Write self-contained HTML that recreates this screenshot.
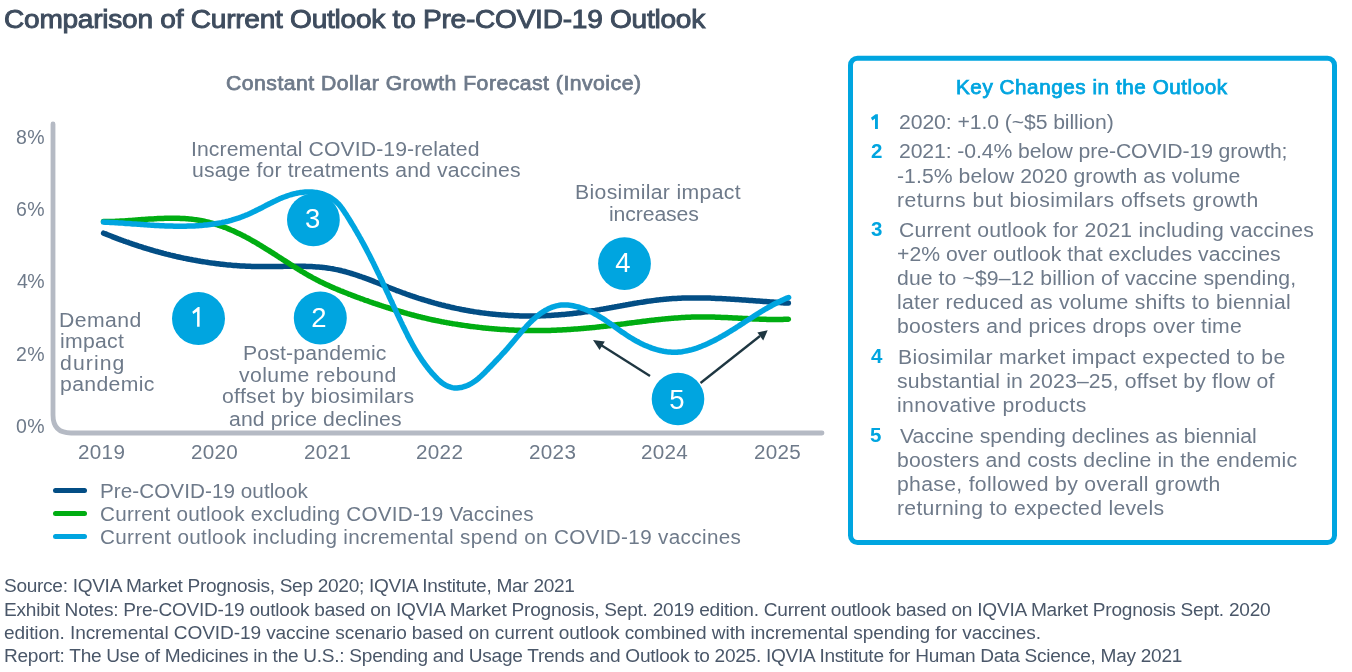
<!DOCTYPE html>
<html><head><meta charset="utf-8"><title>Comparison of Current Outlook to Pre-COVID-19 Outlook</title>
<style>
html,body{margin:0;padding:0;background:#fff;}
body{width:1352px;height:672px;position:relative;overflow:hidden;font-family:"Liberation Sans", sans-serif;}
.ch{position:absolute;left:0;top:0;}
.t{position:absolute;white-space:pre;}
#w{position:absolute;left:0;top:0;width:1352px;height:672px;will-change:transform;}
</style></head><body>
<div id="w">
<svg class="ch" width="1352" height="672" viewBox="0 0 1352 672">
<path d="M53,124 V415 Q53,433 71,433 H822" fill="none" stroke="#b5bac4" stroke-width="4.8" stroke-linecap="round"/>
<path d="M103.6,233.2L104.9,233.7L106.3,234.2L107.6,234.8L108.9,235.3L110.2,235.8L111.5,236.3L112.9,236.9L114.2,237.4L115.5,237.9L116.8,238.4L118.1,238.9L119.5,239.4L120.8,239.9L122.1,240.3L123.4,240.8L124.8,241.3L126.1,241.8L127.4,242.2L128.8,242.7L130.1,243.2L131.4,243.6L132.8,244.1L134.1,244.5L135.4,245.0L136.8,245.4L138.1,245.9L139.4,246.3L140.8,246.7L142.1,247.1L143.4,247.6L144.8,248.0L146.1,248.4L147.5,248.8L148.8,249.2L150.1,249.6L151.5,250.0L152.8,250.4L154.2,250.8L155.5,251.2L156.9,251.5L158.2,251.9L159.6,252.3L160.9,252.6L162.3,253.0L163.6,253.4L165.0,253.7L166.3,254.1L167.7,254.4L169.0,254.7L170.4,255.1L171.7,255.4L173.1,255.7L174.4,256.0L175.8,256.4L177.2,256.7L178.5,257.0L179.9,257.3L181.2,257.6L182.6,257.9L184.0,258.2L185.3,258.4L186.7,258.7L188.0,259.0L189.4,259.3L190.8,259.5L192.1,259.8L193.5,260.1L194.9,260.3L196.2,260.5L197.6,260.8L199.0,261.0L200.3,261.3L201.7,261.5L203.1,261.7L204.5,261.9L205.8,262.1L207.2,262.3L208.6,262.6L210.0,262.8L211.3,262.9L212.7,263.1L214.1,263.3L215.5,263.5L216.9,263.7L218.2,263.8L219.6,264.0L221.0,264.2L222.4,264.3L223.8,264.5L225.1,264.6L226.5,264.8L227.9,264.9L229.3,265.0L230.7,265.1L232.1,265.3L233.5,265.4L234.9,265.5L236.3,265.6L237.6,265.7L239.0,265.8L240.4,265.9L241.8,266.0L243.2,266.0L244.6,266.1L246.0,266.2L247.4,266.2L248.8,266.3L250.2,266.3L251.6,266.4L253.0,266.4L254.4,266.5L255.8,266.5L257.2,266.5L258.6,266.6L260.0,266.6L261.4,266.6L262.8,266.6L264.2,266.6L265.6,266.6L267.0,266.6L268.4,266.6L269.8,266.6L271.3,266.5L272.7,266.5L274.1,266.5L275.5,266.5L276.9,266.5L278.3,266.4L279.7,266.4L281.1,266.4L282.5,266.4L283.9,266.3L285.3,266.3L286.7,266.3L288.1,266.3L289.6,266.3L291.0,266.3L292.4,266.2L293.8,266.2L295.2,266.2L296.6,266.2L298.0,266.2L299.4,266.2L300.8,266.3L302.2,266.3L303.6,266.3L305.0,266.3L306.4,266.4L307.8,266.4L309.2,266.5L310.5,266.5L311.9,266.6L313.3,266.7L314.7,266.8L316.1,266.9L317.5,267.0L318.9,267.1L320.2,267.2L321.6,267.3L323.0,267.5L324.4,267.6L325.7,267.8L327.1,268.0L328.5,268.2L329.8,268.4L331.2,268.6L332.6,268.8L333.9,269.1L335.3,269.4L336.6,269.6L338.0,269.9L339.3,270.2L340.7,270.5L342.0,270.9L343.4,271.2L344.7,271.5L346.0,271.9L347.4,272.3L348.7,272.7L350.1,273.1L351.4,273.5L352.7,273.9L354.0,274.3L355.4,274.7L356.7,275.2L358.0,275.6L359.3,276.1L360.7,276.5L362.0,277.0L363.3,277.5L364.6,277.9L365.9,278.4L367.3,278.9L368.6,279.4L369.9,279.9L371.2,280.4L372.5,280.9L373.8,281.4L375.1,282.0L376.5,282.5L377.8,283.0L379.1,283.5L380.4,284.0L381.7,284.6L383.0,285.1L384.3,285.6L385.6,286.1L386.9,286.6L388.3,287.2L389.6,287.7L390.9,288.2L392.2,288.7L393.5,289.2L394.8,289.8L396.1,290.3L397.5,290.8L398.8,291.3L400.1,291.8L401.4,292.3L402.7,292.8L404.0,293.2L405.4,293.7L406.7,294.2L408.0,294.7L409.3,295.1L410.7,295.6L412.0,296.0L413.3,296.5L414.6,296.9L416.0,297.4L417.3,297.8L418.6,298.3L420.0,298.7L421.3,299.1L422.6,299.5L424.0,299.9L425.3,300.3L426.6,300.7L428.0,301.1L429.3,301.5L430.6,301.9L432.0,302.3L433.3,302.7L434.7,303.1L436.0,303.4L437.4,303.8L438.7,304.2L440.0,304.5L441.4,304.9L442.7,305.2L444.1,305.5L445.4,305.9L446.8,306.2L448.1,306.5L449.5,306.8L450.9,307.2L452.2,307.5L453.6,307.8L454.9,308.1L456.3,308.4L457.6,308.6L459.0,308.9L460.4,309.2L461.7,309.5L463.1,309.7L464.5,310.0L465.8,310.3L467.2,310.5L468.6,310.7L469.9,311.0L471.3,311.2L472.7,311.4L474.0,311.7L475.4,311.9L476.8,312.1L478.2,312.3L479.5,312.5L480.9,312.7L482.3,312.9L483.7,313.1L485.1,313.2L486.4,313.4L487.8,313.6L489.2,313.7L490.6,313.9L492.0,314.0L493.4,314.2L494.8,314.3L496.1,314.4L497.5,314.6L498.9,314.7L500.3,314.8L501.7,314.9L503.1,315.0L504.5,315.1L505.9,315.2L507.3,315.3L508.7,315.4L510.1,315.5L511.5,315.5L512.9,315.6L514.3,315.7L515.7,315.7L517.1,315.8L518.5,315.8L519.9,315.9L521.3,315.9L522.7,315.9L524.1,315.9L525.5,316.0L526.9,316.0L528.3,316.0L529.7,316.0L531.1,316.0L532.5,316.0L533.9,316.0L535.3,316.0L536.7,315.9L538.1,315.9L539.5,315.9L540.9,315.8L542.3,315.8L543.7,315.7L545.1,315.7L546.5,315.6L547.9,315.6L549.3,315.5L550.7,315.4L552.1,315.3L553.5,315.2L554.9,315.1L556.3,315.1L557.7,315.0L559.1,314.8L560.5,314.7L561.9,314.6L563.3,314.5L564.7,314.4L566.1,314.2L567.5,314.1L568.9,314.0L570.3,313.8L571.7,313.7L573.0,313.5L574.4,313.3L575.8,313.2L577.2,313.0L578.6,312.8L580.0,312.7L581.4,312.5L582.8,312.3L584.2,312.1L585.6,311.9L586.9,311.7L588.3,311.5L589.7,311.3L591.1,311.0L592.5,310.8L593.9,310.6L595.2,310.4L596.6,310.1L598.0,309.9L599.4,309.7L600.8,309.4L602.2,309.2L603.5,309.0L604.9,308.7L606.3,308.5L607.7,308.2L609.0,308.0L610.4,307.7L611.8,307.5L613.2,307.2L614.5,307.0L615.9,306.7L617.3,306.5L618.7,306.2L620.1,306.0L621.4,305.7L622.8,305.5L624.2,305.2L625.6,305.0L626.9,304.7L628.3,304.5L629.7,304.2L631.1,304.0L632.4,303.8L633.8,303.5L635.2,303.3L636.6,303.1L637.9,302.8L639.3,302.6L640.7,302.4L642.1,302.2L643.4,302.0L644.8,301.7L646.2,301.5L647.6,301.3L649.0,301.1L650.3,300.9L651.7,300.8L653.1,300.6L654.5,300.4L655.9,300.2L657.2,300.0L658.6,299.9L660.0,299.7L661.4,299.6L662.8,299.4L664.2,299.3L665.5,299.2L666.9,299.0L668.3,298.9L669.7,298.8L671.1,298.7L672.5,298.6L673.9,298.5L675.3,298.4L676.6,298.4L678.0,298.3L679.4,298.2L680.8,298.2L682.2,298.1L683.6,298.1L685.0,298.0L686.4,298.0L687.8,298.0L689.2,297.9L690.6,297.9L692.0,297.9L693.4,297.9L694.8,297.9L696.2,297.9L697.6,297.9L699.0,297.9L700.4,297.9L701.8,297.9L703.2,298.0L704.6,298.0L706.0,298.0L707.4,298.1L708.8,298.1L710.2,298.1L711.6,298.2L713.0,298.2L714.4,298.3L715.8,298.4L717.2,298.4L718.6,298.5L720.0,298.5L721.4,298.6L722.8,298.7L724.2,298.8L725.6,298.8L727.0,298.9L728.4,299.0L729.8,299.1L731.2,299.2L732.6,299.2L734.0,299.3L735.4,299.4L736.8,299.5L738.2,299.6L739.6,299.7L741.0,299.8L742.4,299.9L743.8,300.0L745.2,300.1L746.6,300.2L748.0,300.3L749.4,300.4L750.8,300.5L752.2,300.6L753.6,300.7L755.0,300.8L756.4,300.9L757.8,301.0L759.2,301.1L760.6,301.2L762.0,301.3L763.3,301.4L764.7,301.5L766.1,301.6L767.5,301.7L768.9,301.8L770.3,301.9L771.7,302.0L773.1,302.1L774.5,302.2L775.9,302.3L777.3,302.4L778.7,302.5L780.0,302.6L781.4,302.7L782.8,302.8L784.2,302.9L785.6,302.9L787.0,303.0L788.4,303.1" fill="none" stroke="#034e85" stroke-width="5.5" stroke-linecap="round" stroke-linejoin="round"/>
<path d="M103.5,221.6L104.9,221.6L106.3,221.6L107.7,221.6L109.1,221.5L110.4,221.5L111.8,221.5L113.2,221.4L114.6,221.4L116.0,221.3L117.4,221.2L118.9,221.2L120.3,221.1L121.7,221.0L123.1,220.9L124.5,220.9L125.9,220.8L127.4,220.7L128.8,220.6L130.2,220.5L131.7,220.4L133.1,220.3L134.5,220.2L136.0,220.1L137.4,220.0L138.8,219.8L140.3,219.7L141.7,219.6L143.2,219.5L144.6,219.4L146.0,219.3L147.5,219.2L148.9,219.1L150.4,219.0L151.8,218.9L153.3,218.9L154.7,218.8L156.2,218.7L157.6,218.6L159.0,218.6L160.5,218.5L161.9,218.4L163.4,218.4L164.8,218.3L166.3,218.3L167.7,218.3L169.1,218.2L170.6,218.2L172.0,218.2L173.4,218.2L174.9,218.2L176.3,218.3L177.7,218.3L179.2,218.3L180.6,218.4L182.0,218.4L183.4,218.5L184.8,218.6L186.3,218.7L187.7,218.8L189.1,218.9L190.5,219.1L191.9,219.2L193.3,219.4L194.7,219.6L196.1,219.8L197.5,220.0L198.9,220.2L200.3,220.4L201.6,220.7L203.0,221.0L204.4,221.3L205.8,221.6L207.1,221.9L208.5,222.2L209.9,222.6L211.2,222.9L212.6,223.3L213.9,223.7L215.3,224.1L216.6,224.5L217.9,225.0L219.3,225.4L220.6,225.9L221.9,226.3L223.2,226.8L224.6,227.3L225.9,227.8L227.2,228.3L228.5,228.9L229.8,229.4L231.1,230.0L232.4,230.5L233.7,231.1L235.0,231.7L236.2,232.3L237.5,232.9L238.8,233.5L240.1,234.1L241.3,234.7L242.6,235.4L243.9,236.0L245.1,236.7L246.4,237.4L247.6,238.0L248.9,238.7L250.1,239.4L251.4,240.1L252.6,240.8L253.8,241.5L255.1,242.2L256.3,242.9L257.5,243.6L258.7,244.4L260.0,245.1L261.2,245.8L262.4,246.6L263.6,247.3L264.8,248.1L266.0,248.8L267.3,249.6L268.5,250.3L269.7,251.1L270.9,251.9L272.1,252.6L273.3,253.4L274.5,254.2L275.7,254.9L276.9,255.7L278.1,256.5L279.3,257.3L280.5,258.0L281.7,258.8L282.9,259.6L284.1,260.3L285.3,261.1L286.5,261.9L287.7,262.7L288.9,263.4L290.1,264.2L291.3,265.0L292.5,265.7L293.7,266.5L295.0,267.2L296.2,268.0L297.4,268.7L298.6,269.5L299.8,270.2L301.0,271.0L302.2,271.7L303.5,272.4L304.7,273.2L305.9,273.9L307.2,274.6L308.4,275.3L309.6,276.0L310.9,276.7L312.1,277.4L313.4,278.1L314.6,278.7L315.9,279.4L317.1,280.1L318.4,280.7L319.6,281.4L320.9,282.0L322.2,282.6L323.5,283.2L324.7,283.8L326.0,284.4L327.3,285.0L328.6,285.6L329.9,286.2L331.2,286.8L332.5,287.4L333.8,287.9L335.1,288.5L336.4,289.0L337.7,289.6L339.0,290.1L340.3,290.7L341.6,291.2L343.0,291.7L344.3,292.3L345.6,292.8L346.9,293.3L348.2,293.8L349.6,294.3L350.9,294.8L352.2,295.4L353.6,295.9L354.9,296.4L356.2,296.9L357.6,297.4L358.9,297.8L360.2,298.3L361.6,298.8L362.9,299.3L364.2,299.8L365.6,300.3L366.9,300.7L368.3,301.2L369.6,301.7L370.9,302.2L372.3,302.6L373.6,303.1L375.0,303.5L376.3,304.0L377.7,304.4L379.0,304.9L380.4,305.3L381.7,305.8L383.1,306.2L384.4,306.7L385.8,307.1L387.1,307.5L388.5,307.9L389.8,308.4L391.2,308.8L392.5,309.2L393.9,309.6L395.3,310.0L396.6,310.4L398.0,310.8L399.3,311.2L400.7,311.6L402.0,312.0L403.4,312.4L404.7,312.8L406.1,313.2L407.5,313.6L408.8,313.9L410.2,314.3L411.5,314.7L412.9,315.0L414.2,315.4L415.6,315.8L417.0,316.1L418.3,316.5L419.7,316.8L421.1,317.1L422.4,317.5L423.8,317.8L425.2,318.1L426.5,318.4L427.9,318.8L429.3,319.1L430.6,319.4L432.0,319.7L433.4,320.0L434.8,320.3L436.1,320.6L437.5,320.8L438.9,321.1L440.3,321.4L441.7,321.7L443.0,321.9L444.4,322.2L445.8,322.4L447.2,322.7L448.6,322.9L450.0,323.2L451.4,323.4L452.8,323.7L454.1,323.9L455.5,324.1L456.9,324.3L458.3,324.6L459.7,324.8L461.1,325.0L462.5,325.2L463.9,325.4L465.3,325.6L466.7,325.8L468.1,326.0L469.5,326.2L471.0,326.4L472.4,326.6L473.8,326.7L475.2,326.9L476.6,327.1L478.0,327.2L479.4,327.4L480.8,327.6L482.2,327.7L483.7,327.9L485.1,328.0L486.5,328.2L487.9,328.3L489.3,328.4L490.7,328.6L492.2,328.7L493.6,328.8L495.0,328.9L496.4,329.0L497.8,329.2L499.3,329.3L500.7,329.4L502.1,329.5L503.5,329.6L504.9,329.6L506.4,329.7L507.8,329.8L509.2,329.9L510.6,330.0L512.0,330.0L513.5,330.1L514.9,330.2L516.3,330.2L517.7,330.3L519.2,330.3L520.6,330.4L522.0,330.4L523.4,330.4L524.8,330.5L526.3,330.5L527.7,330.5L529.1,330.6L530.5,330.6L532.0,330.6L533.4,330.6L534.8,330.6L536.2,330.6L537.6,330.6L539.1,330.6L540.5,330.6L541.9,330.6L543.3,330.5L544.7,330.5L546.1,330.5L547.6,330.5L549.0,330.4L550.4,330.4L551.8,330.3L553.2,330.3L554.6,330.2L556.1,330.2L557.5,330.1L558.9,330.1L560.3,330.0L561.7,329.9L563.1,329.8L564.5,329.8L566.0,329.7L567.4,329.6L568.8,329.5L570.2,329.4L571.6,329.3L573.0,329.2L574.4,329.1L575.8,329.0L577.3,328.9L578.7,328.8L580.1,328.7L581.5,328.6L582.9,328.5L584.3,328.3L585.7,328.2L587.1,328.1L588.5,328.0L590.0,327.8L591.4,327.7L592.8,327.6L594.2,327.4L595.6,327.3L597.0,327.1L598.4,327.0L599.8,326.8L601.2,326.6L602.6,326.5L604.1,326.3L605.5,326.2L606.9,326.0L608.3,325.8L609.7,325.7L611.1,325.5L612.5,325.3L613.9,325.1L615.3,325.0L616.7,324.8L618.2,324.6L619.6,324.4L621.0,324.2L622.4,324.1L623.8,323.9L625.2,323.7L626.6,323.5L628.0,323.3L629.4,323.1L630.8,323.0L632.3,322.8L633.7,322.6L635.1,322.4L636.5,322.2L637.9,322.0L639.3,321.9L640.7,321.7L642.1,321.5L643.5,321.3L645.0,321.2L646.4,321.0L647.8,320.8L649.2,320.6L650.6,320.5L652.0,320.3L653.4,320.2L654.8,320.0L656.3,319.8L657.7,319.7L659.1,319.5L660.5,319.4L661.9,319.2L663.3,319.1L664.7,318.9L666.1,318.8L667.6,318.7L669.0,318.5L670.4,318.4L671.8,318.3L673.2,318.2L674.6,318.1L676.1,318.0L677.5,317.9L678.9,317.8L680.3,317.7L681.7,317.6L683.1,317.5L684.6,317.4L686.0,317.3L687.4,317.3L688.8,317.2L690.2,317.2L691.7,317.1L693.1,317.1L694.5,317.0L695.9,317.0L697.3,317.0L698.8,317.0L700.2,316.9L701.6,316.9L703.0,316.9L704.4,316.9L705.9,316.9L707.3,317.0L708.7,317.0L710.1,317.0L711.6,317.0L713.0,317.1L714.4,317.1L715.8,317.2L717.3,317.2L718.7,317.3L720.1,317.3L721.5,317.4L723.0,317.4L724.4,317.5L725.8,317.5L727.2,317.6L728.7,317.7L730.1,317.7L731.5,317.8L732.9,317.9L734.4,318.0L735.8,318.0L737.2,318.1L738.6,318.2L740.1,318.3L741.5,318.3L742.9,318.4L744.3,318.5L745.8,318.5L747.2,318.6L748.6,318.7L750.0,318.7L751.5,318.8L752.9,318.9L754.3,318.9L755.7,319.0L757.2,319.1L758.6,319.1L760.0,319.2L761.4,319.2L762.8,319.3L764.3,319.3L765.7,319.3L767.1,319.4L768.5,319.4L770.0,319.4L771.4,319.4L772.8,319.4L774.2,319.5L775.6,319.5L777.0,319.5L778.5,319.4L779.9,319.4L781.3,319.4L782.7,319.4L784.1,319.3L785.5,319.3L787.0,319.3L788.4,319.2" fill="none" stroke="#00ad12" stroke-width="5.5" stroke-linecap="round" stroke-linejoin="round"/>
<path d="M103.5,222.1L105.2,222.2L106.9,222.3L108.6,222.3L110.3,222.4L112.0,222.5L113.7,222.6L115.5,222.7L117.2,222.8L118.9,222.9L120.6,223.0L122.3,223.1L124.0,223.2L125.7,223.4L127.4,223.5L129.2,223.6L130.9,223.7L132.6,223.9L134.3,224.0L136.0,224.1L137.8,224.2L139.5,224.3L141.2,224.5L142.9,224.6L144.6,224.7L146.4,224.8L148.1,224.9L149.8,225.1L151.5,225.2L153.3,225.3L155.0,225.4L156.7,225.5L158.4,225.6L160.2,225.7L161.9,225.7L163.6,225.8L165.3,225.9L167.1,226.0L168.8,226.0L170.5,226.1L172.2,226.1L174.0,226.2L175.7,226.2L177.4,226.2L179.1,226.2L180.8,226.2L182.6,226.2L184.3,226.2L186.0,226.2L187.7,226.1L189.4,226.1L191.1,226.0L192.9,226.0L194.6,225.9L196.3,225.8L198.0,225.7L199.7,225.5L201.4,225.4L203.1,225.3L204.8,225.1L206.5,224.9L208.2,224.7L209.9,224.5L211.6,224.3L213.3,224.0L215.0,223.8L216.7,223.5L218.4,223.2L220.1,222.9L221.7,222.6L223.4,222.2L225.1,221.9L226.7,221.5L228.4,221.1L230.0,220.6L231.7,220.2L233.3,219.7L235.0,219.2L236.6,218.7L238.2,218.2L239.8,217.6L241.4,217.0L243.0,216.4L244.6,215.8L246.2,215.1L247.8,214.5L249.4,213.8L250.9,213.1L252.5,212.3L254.1,211.6L255.6,210.8L257.1,210.0L258.7,209.3L260.2,208.5L261.8,207.7L263.3,206.9L264.8,206.1L266.3,205.3L267.9,204.5L269.4,203.7L270.9,203.0L272.5,202.2L274.0,201.4L275.6,200.7L277.1,200.0L278.7,199.3L280.2,198.6L281.8,197.9L283.4,197.3L285.0,196.7L286.6,196.1L288.3,195.5L289.9,195.0L291.6,194.5L293.2,194.0L294.9,193.6L296.6,193.3L298.3,192.9L300.0,192.6L301.7,192.4L303.4,192.2L305.1,192.1L306.9,192.0L308.6,191.9L310.3,191.9L312.0,192.0L313.7,192.2L315.4,192.4L317.1,192.6L318.7,193.0L320.4,193.4L322.1,193.8L323.7,194.4L325.3,195.0L326.9,195.7L328.5,196.5L330.0,197.3L331.5,198.2L332.9,199.2L334.3,200.2L335.7,201.3L336.9,202.5L338.2,203.7L339.3,204.9L340.4,206.3L341.4,207.6L342.5,209.0L343.4,210.4L344.4,211.8L345.3,213.3L346.3,214.7L347.2,216.2L348.1,217.6L349.0,219.1L349.9,220.5L350.8,222.0L351.7,223.5L352.6,224.9L353.5,226.4L354.4,227.9L355.2,229.4L356.1,230.9L357.0,232.4L357.8,233.8L358.7,235.3L359.5,236.8L360.4,238.3L361.2,239.8L362.0,241.4L362.9,242.9L363.7,244.4L364.5,245.9L365.3,247.4L366.1,248.9L366.9,250.4L367.7,252.0L368.5,253.5L369.3,255.0L370.1,256.6L370.8,258.1L371.6,259.6L372.4,261.2L373.2,262.7L373.9,264.2L374.7,265.8L375.4,267.3L376.2,268.9L376.9,270.4L377.7,272.0L378.4,273.5L379.2,275.0L379.9,276.6L380.6,278.1L381.4,279.7L382.1,281.2L382.8,282.8L383.5,284.4L384.3,285.9L385.0,287.5L385.7,289.0L386.4,290.6L387.1,292.1L387.9,293.7L388.6,295.2L389.3,296.8L390.0,298.4L390.7,299.9L391.5,301.5L392.2,303.0L392.9,304.6L393.6,306.1L394.3,307.7L395.1,309.2L395.8,310.8L396.5,312.4L397.2,313.9L398.0,315.5L398.7,317.0L399.4,318.6L400.2,320.1L400.9,321.7L401.7,323.2L402.4,324.8L403.1,326.3L403.9,327.9L404.7,329.4L405.4,331.0L406.2,332.5L407.0,334.0L407.7,335.6L408.5,337.1L409.3,338.6L410.1,340.1L410.9,341.7L411.8,343.2L412.6,344.7L413.4,346.2L414.3,347.7L415.1,349.2L416.0,350.6L416.9,352.1L417.8,353.6L418.7,355.0L419.7,356.5L420.6,357.9L421.5,359.4L422.5,360.8L423.5,362.2L424.5,363.6L425.5,365.0L426.6,366.4L427.6,367.7L428.7,369.1L429.8,370.5L430.9,371.8L432.0,373.1L433.2,374.4L434.4,375.7L435.6,377.0L436.8,378.2L438.0,379.4L439.3,380.6L440.6,381.7L441.9,382.7L443.3,383.7L444.7,384.6L446.1,385.4L447.6,386.1L449.1,386.7L450.6,387.2L452.2,387.6L453.8,387.9L455.4,388.0L457.1,388.0L458.8,387.8L460.6,387.6L462.3,387.2L464.0,386.7L465.7,386.1L467.4,385.5L469.0,384.7L470.6,383.9L472.1,383.0L473.6,382.0L475.1,381.0L476.5,380.0L477.9,378.9L479.2,377.7L480.6,376.5L481.9,375.3L483.1,374.1L484.4,372.9L485.6,371.6L486.8,370.4L488.0,369.2L489.2,367.9L490.4,366.7L491.6,365.5L492.7,364.3L493.9,363.1L495.0,361.9L496.1,360.7L497.3,359.5L498.4,358.3L499.5,357.2L500.6,356.0L501.7,354.7L502.8,353.5L504.0,352.3L505.1,351.1L506.2,349.8L507.3,348.6L508.4,347.3L509.5,346.0L510.6,344.7L511.8,343.4L512.9,342.0L514.0,340.7L515.2,339.3L516.3,337.9L517.5,336.5L518.7,335.2L519.9,333.8L521.0,332.4L522.2,331.0L523.4,329.7L524.7,328.3L525.9,327.0L527.1,325.6L528.4,324.3L529.6,323.0L530.9,321.8L532.2,320.5L533.5,319.3L534.8,318.2L536.1,317.0L537.5,315.9L538.8,314.8L540.2,313.8L541.6,312.8L543.0,311.9L544.4,311.0L545.8,310.2L547.3,309.4L548.7,308.6L550.2,308.0L551.7,307.4L553.2,306.8L554.8,306.3L556.4,305.9L557.9,305.6L559.5,305.3L561.2,305.1L562.8,305.0L564.5,305.0L566.1,305.0L567.8,305.1L569.5,305.3L571.2,305.5L572.9,305.8L574.7,306.2L576.4,306.6L578.1,307.0L579.8,307.5L581.5,308.1L583.2,308.7L584.8,309.3L586.5,309.9L588.1,310.6L589.8,311.4L591.4,312.1L592.9,312.9L594.5,313.7L596.0,314.5L597.5,315.4L599.0,316.2L600.4,317.1L601.9,318.0L603.3,318.9L604.7,319.8L606.1,320.8L607.5,321.7L608.9,322.7L610.3,323.6L611.6,324.6L613.0,325.5L614.4,326.5L615.7,327.5L617.1,328.5L618.5,329.5L619.8,330.4L621.2,331.4L622.6,332.4L624.0,333.3L625.4,334.3L626.8,335.2L628.3,336.2L629.7,337.1L631.2,338.0L632.7,338.9L634.2,339.8L635.7,340.7L637.3,341.5L638.8,342.3L640.4,343.2L642.0,343.9L643.6,344.7L645.2,345.4L646.8,346.1L648.5,346.8L650.1,347.4L651.8,348.1L653.4,348.6L655.1,349.2L656.8,349.7L658.4,350.1L660.1,350.5L661.8,350.9L663.5,351.3L665.2,351.5L666.9,351.8L668.6,352.0L670.2,352.1L671.9,352.2L673.6,352.2L675.3,352.2L677.0,352.2L678.7,352.0L680.3,351.9L682.0,351.7L683.7,351.4L685.3,351.1L687.0,350.8L688.6,350.4L690.3,350.0L691.9,349.6L693.6,349.1L695.2,348.6L696.8,348.1L698.4,347.5L700.0,346.9L701.6,346.3L703.2,345.6L704.8,344.9L706.4,344.2L708.0,343.5L709.5,342.8L711.1,342.0L712.6,341.3L714.2,340.5L715.7,339.7L717.2,338.9L718.7,338.1L720.2,337.2L721.7,336.4L723.2,335.5L724.7,334.7L726.2,333.8L727.7,332.9L729.1,332.0L730.6,331.1L732.1,330.2L733.5,329.3L735.0,328.4L736.4,327.4L737.9,326.5L739.3,325.6L740.8,324.6L742.2,323.7L743.7,322.8L745.1,321.8L746.5,320.9L748.0,320.0L749.4,319.0L750.9,318.1L752.3,317.2L753.8,316.2L755.2,315.3L756.7,314.4L758.1,313.5L759.6,312.6L761.1,311.7L762.5,310.8L764.0,309.9L765.5,309.0L767.0,308.2L768.5,307.3L770.0,306.5L771.5,305.7L773.0,304.8L774.5,304.0L776.0,303.2L777.6,302.5L779.1,301.7L780.7,301.0L782.2,300.2L783.8,299.5L785.4,298.8L787.0,298.1L788.6,297.5" fill="none" stroke="#00a5e0" stroke-width="5.5" stroke-linecap="round" stroke-linejoin="round"/>
<g fill="#00a5e0">
<circle cx="198.5" cy="318.5" r="26.5"/><circle cx="320.3" cy="318" r="26.5"/><circle cx="313.4" cy="219.9" r="26.4"/>
<circle cx="624.5" cy="263.7" r="26.4"/><circle cx="678" cy="399" r="26.3"/>
</g>
<g stroke="#1e3641" stroke-width="2.3" fill="none"><path d="M650,376 L601,345"/><path d="M700.5,383 L760,336"/></g>
<g fill="#1e3641"><path d="M593,340 L599.6,350 L604.8,341.5 Z"/><path d="M767.7,330.2 L757.4,332.4 L763.2,340.6 Z"/></g>
<g fill="#fff" font-family='"Liberation Sans", sans-serif' font-size="27.5" text-anchor="middle">
<text x="318.8" y="326.7">2</text><text x="312.6" y="227.7">3</text><text x="623" y="271.5">4</text><text x="677" y="409.2">5</text>
<path d="M197.1,326.8 V311.4 L193.3,314.0 L192.3,311.8 L198.0,307.1 H199.6 V326.8 Z"/>
</g>
<g stroke-width="5" stroke-linecap="round"><path d="M55.5,490.4 H84.5" stroke="#034e85"/><path d="M55.5,513.6 H84.5" stroke="#00ad12"/><path d="M55.5,536.6 H84.5" stroke="#00a5e0"/></g>
<path d="M875,129 V118.6 L872.4,120.4 L870.9,117.7 L875.6,114.2 H877.9 V129 Z" fill="#00a5e0"/>
<rect x="850.5" y="58.3" width="484" height="484.3" rx="7" fill="none" stroke="#00a5e0" stroke-width="5"/>
</svg>

<div class="t" id="t0" style="left:4.00px;top:5.57px;font-size:26.5px;line-height:26.5px;color:#3e4c5e;letter-spacing:-0.250px;-webkit-text-stroke:0.95px #3e4c5e;transform:scaleX(1.06);transform-origin:0 0;">Comparison of Current Outlook to Pre-COVID-19 Outlook</div>
<div class="t" id="t1" style="left:225.60px;top:73.47px;font-size:20px;line-height:20px;color:#6e7a8a;letter-spacing:0.450px;-webkit-text-stroke:0.75px #6e7a8a;transform:scaleX(1.06);transform-origin:0 0;">Constant Dollar Growth Forecast (Invoice)</div>
<div class="t" id="t2" style="left:16.00px;top:128.29px;font-size:19.5px;line-height:19.5px;color:#6e7a8a;letter-spacing:0.355px;">8%</div>
<div class="t" id="t3" style="left:16.00px;top:200.09px;font-size:19.5px;line-height:19.5px;color:#6e7a8a;letter-spacing:0.355px;">6%</div>
<div class="t" id="t4" style="left:17.00px;top:272.49px;font-size:19.5px;line-height:19.5px;color:#6e7a8a;letter-spacing:-0.645px;">4%</div>
<div class="t" id="t5" style="left:16.00px;top:344.79px;font-size:19.5px;line-height:19.5px;color:#6e7a8a;letter-spacing:0.355px;">2%</div>
<div class="t" id="t6" style="left:16.00px;top:416.99px;font-size:19.5px;line-height:19.5px;color:#6e7a8a;letter-spacing:0.355px;">0%</div>
<div class="t" id="t7" style="left:77.80px;top:443.49px;font-size:19.5px;line-height:19.5px;color:#6e7a8a;letter-spacing:0.287px;transform:scaleX(1.06);transform-origin:0 0;">2019</div>
<div class="t" id="t8" style="left:190.80px;top:443.49px;font-size:19.5px;line-height:19.5px;color:#6e7a8a;letter-spacing:0.268px;transform:scaleX(1.06);transform-origin:0 0;">2020</div>
<div class="t" id="t9" style="left:303.60px;top:443.49px;font-size:19.5px;line-height:19.5px;color:#6e7a8a;letter-spacing:0.287px;transform:scaleX(1.06);transform-origin:0 0;">2021</div>
<div class="t" id="t10" style="left:416.00px;top:443.49px;font-size:19.5px;line-height:19.5px;color:#6e7a8a;letter-spacing:0.287px;transform:scaleX(1.06);transform-origin:0 0;">2022</div>
<div class="t" id="t11" style="left:528.60px;top:443.49px;font-size:19.5px;line-height:19.5px;color:#6e7a8a;letter-spacing:0.287px;transform:scaleX(1.06);transform-origin:0 0;">2023</div>
<div class="t" id="t12" style="left:641.20px;top:443.49px;font-size:19.5px;line-height:19.5px;color:#6e7a8a;letter-spacing:0.268px;transform:scaleX(1.06);transform-origin:0 0;">2024</div>
<div class="t" id="t13" style="left:754.00px;top:443.49px;font-size:19.5px;line-height:19.5px;color:#6e7a8a;letter-spacing:0.268px;transform:scaleX(1.06);transform-origin:0 0;">2025</div>
<div class="t" id="t14" style="left:190.60px;top:138.97px;font-size:20px;line-height:20px;color:#6e7a8a;letter-spacing:0.075px;transform:scaleX(1.06);transform-origin:0 0;">Incremental COVID-19-related</div>
<div class="t" id="t15" style="left:191.60px;top:159.67px;font-size:20px;line-height:20px;color:#6e7a8a;letter-spacing:0.130px;transform:scaleX(1.06);transform-origin:0 0;">usage for treatments and vaccines</div>
<div class="t" id="t16" style="left:574.80px;top:182.07px;font-size:20px;line-height:20px;color:#6e7a8a;letter-spacing:0.317px;transform:scaleX(1.06);transform-origin:0 0;">Biosimilar impact</div>
<div class="t" id="t17" style="left:609.00px;top:203.77px;font-size:20px;line-height:20px;color:#6e7a8a;letter-spacing:-0.103px;transform:scaleX(1.06);transform-origin:0 0;">increases</div>
<div class="t" id="t18" style="left:59.40px;top:310.17px;font-size:20px;line-height:20px;color:#6e7a8a;letter-spacing:0.400px;transform:scaleX(1.06);transform-origin:0 0;">Demand</div>
<div class="t" id="t19" style="left:60.40px;top:331.47px;font-size:20px;line-height:20px;color:#6e7a8a;letter-spacing:0.255px;transform:scaleX(1.06);transform-origin:0 0;">impact</div>
<div class="t" id="t20" style="left:60.40px;top:352.77px;font-size:20px;line-height:20px;color:#6e7a8a;letter-spacing:1.030px;transform:scaleX(1.06);transform-origin:0 0;">during</div>
<div class="t" id="t21" style="left:60.40px;top:374.17px;font-size:20px;line-height:20px;color:#6e7a8a;letter-spacing:0.342px;transform:scaleX(1.06);transform-origin:0 0;">pandemic</div>
<div class="t" id="t22" style="left:243.20px;top:342.77px;font-size:20px;line-height:20px;color:#6e7a8a;letter-spacing:0.162px;transform:scaleX(1.06);transform-origin:0 0;">Post-pandemic</div>
<div class="t" id="t23" style="left:239.00px;top:364.67px;font-size:20px;line-height:20px;color:#6e7a8a;letter-spacing:0.374px;transform:scaleX(1.06);transform-origin:0 0;">volume rebound</div>
<div class="t" id="t24" style="left:222.00px;top:385.97px;font-size:20px;line-height:20px;color:#6e7a8a;letter-spacing:0.294px;transform:scaleX(1.06);transform-origin:0 0;">offset by biosimilars</div>
<div class="t" id="t25" style="left:228.80px;top:409.07px;font-size:20px;line-height:20px;color:#6e7a8a;letter-spacing:0.095px;transform:scaleX(1.06);transform-origin:0 0;">and price declines</div>
<div class="t" id="t26" style="left:100.00px;top:482.49px;font-size:19.5px;line-height:19.5px;color:#6e7a8a;letter-spacing:0.050px;transform:scaleX(1.06);transform-origin:0 0;">Pre-COVID-19 outlook</div>
<div class="t" id="t27" style="left:100.00px;top:505.19px;font-size:19.5px;line-height:19.5px;color:#6e7a8a;letter-spacing:0.224px;transform:scaleX(1.06);transform-origin:0 0;">Current outlook excluding COVID-19 Vaccines</div>
<div class="t" id="t28" style="left:100.00px;top:527.69px;font-size:19.5px;line-height:19.5px;color:#6e7a8a;letter-spacing:0.324px;transform:scaleX(1.06);transform-origin:0 0;">Current outlook including incremental spend on COVID-19 vaccines</div>
<div class="t" id="t29" style="left:4.00px;top:576.96px;font-size:18px;line-height:18px;color:#4a5769;letter-spacing:-0.283px;transform:scaleX(1.06);transform-origin:0 0;">Source: IQVIA Market Prognosis, Sep 2020; IQVIA Institute, Mar 2021</div>
<div class="t" id="t30" style="left:4.00px;top:600.66px;font-size:18px;line-height:18px;color:#4a5769;letter-spacing:-0.231px;transform:scaleX(1.06);transform-origin:0 0;">Exhibit Notes: Pre-COVID-19 outlook based on IQVIA Market Prognosis, Sept. 2019 edition. Current outlook based on IQVIA Market Prognosis Sept. 2020</div>
<div class="t" id="t31" style="left:4.00px;top:624.16px;font-size:18px;line-height:18px;color:#4a5769;letter-spacing:-0.094px;transform:scaleX(1.06);transform-origin:0 0;">edition. Incremental COVID-19 vaccine scenario based on current outlook combined with incremental spending for vaccines.</div>
<div class="t" id="t32" style="left:4.00px;top:646.76px;font-size:18px;line-height:18px;color:#4a5769;letter-spacing:-0.262px;transform:scaleX(1.06);transform-origin:0 0;">Report: The Use of Medicines in the U.S.: Spending and Usage Trends and Outlook to 2025. IQVIA Institute for Human Data Science, May 2021</div>
<div class="t" id="t33" style="left:955.60px;top:77.89px;font-size:19.5px;line-height:19.5px;color:#00a5e0;letter-spacing:0.521px;-webkit-text-stroke:0.75px #00a5e0;transform:scaleX(1.06);transform-origin:0 0;">Key Changes in the Outlook</div>
<div class="t" id="t34" style="left:899.00px;top:112.07px;font-size:20px;line-height:20px;color:#6e7a8a;letter-spacing:-0.086px;transform:scaleX(1.06);transform-origin:0 0;">2020: +1.0 (~$5 billion)</div>
<div class="t" id="t35" style="left:871.00px;top:140.65px;font-size:20.5px;line-height:20.5px;color:#00a5e0;font-weight:700;">2</div>
<div class="t" id="t36" style="left:899.00px;top:141.07px;font-size:20px;line-height:20px;color:#6e7a8a;letter-spacing:-0.099px;transform:scaleX(1.06);transform-origin:0 0;">2021: -0.4% below pre-COVID-19 growth;</div>
<div class="t" id="t37" style="left:897.00px;top:165.57px;font-size:20px;line-height:20px;color:#6e7a8a;letter-spacing:0.047px;transform:scaleX(1.06);transform-origin:0 0;">-1.5% below 2020 growth as volume</div>
<div class="t" id="t38" style="left:897.00px;top:189.57px;font-size:20px;line-height:20px;color:#6e7a8a;letter-spacing:0.418px;transform:scaleX(1.06);transform-origin:0 0;">returns but biosimilars offsets growth</div>
<div class="t" id="t39" style="left:871.00px;top:219.35px;font-size:20.5px;line-height:20.5px;color:#00a5e0;font-weight:700;">3</div>
<div class="t" id="t40" style="left:899.00px;top:219.77px;font-size:20px;line-height:20px;color:#6e7a8a;letter-spacing:0.186px;transform:scaleX(1.06);transform-origin:0 0;">Current outlook for 2021 including vaccines</div>
<div class="t" id="t41" style="left:897.00px;top:243.67px;font-size:20px;line-height:20px;color:#6e7a8a;transform:scaleX(1.06);transform-origin:0 0;">+2% over outlook that excludes vaccines</div>
<div class="t" id="t42" style="left:897.00px;top:267.77px;font-size:20px;line-height:20px;color:#6e7a8a;letter-spacing:0.083px;transform:scaleX(1.06);transform-origin:0 0;">due to ~$9–12 billion of vaccine spending,</div>
<div class="t" id="t43" style="left:897.00px;top:292.07px;font-size:20px;line-height:20px;color:#6e7a8a;letter-spacing:0.220px;transform:scaleX(1.06);transform-origin:0 0;">later reduced as volume shifts to biennial</div>
<div class="t" id="t44" style="left:897.00px;top:316.47px;font-size:20px;line-height:20px;color:#6e7a8a;letter-spacing:0.216px;transform:scaleX(1.06);transform-origin:0 0;">boosters and prices drops over time</div>
<div class="t" id="t45" style="left:871.00px;top:346.25px;font-size:20.5px;line-height:20.5px;color:#00a5e0;font-weight:700;">4</div>
<div class="t" id="t46" style="left:898.00px;top:346.67px;font-size:20px;line-height:20px;color:#6e7a8a;letter-spacing:0.281px;transform:scaleX(1.06);transform-origin:0 0;">Biosimilar market impact expected to be</div>
<div class="t" id="t47" style="left:897.00px;top:370.77px;font-size:20px;line-height:20px;color:#6e7a8a;letter-spacing:0.153px;transform:scaleX(1.06);transform-origin:0 0;">substantial in 2023–25, offset by flow of</div>
<div class="t" id="t48" style="left:897.00px;top:394.87px;font-size:20px;line-height:20px;color:#6e7a8a;letter-spacing:0.346px;transform:scaleX(1.06);transform-origin:0 0;">innovative products</div>
<div class="t" id="t49" style="left:870.00px;top:425.35px;font-size:20.5px;line-height:20.5px;color:#00a5e0;font-weight:700;">5</div>
<div class="t" id="t50" style="left:900.00px;top:425.77px;font-size:20px;line-height:20px;color:#6e7a8a;transform:scaleX(1.06);transform-origin:0 0;">Vaccine spending declines as biennial</div>
<div class="t" id="t51" style="left:897.00px;top:449.87px;font-size:20px;line-height:20px;color:#6e7a8a;letter-spacing:0.124px;transform:scaleX(1.06);transform-origin:0 0;">boosters and costs decline in the endemic</div>
<div class="t" id="t52" style="left:897.00px;top:473.57px;font-size:20px;line-height:20px;color:#6e7a8a;letter-spacing:0.288px;transform:scaleX(1.06);transform-origin:0 0;">phase, followed by overall growth</div>
<div class="t" id="t53" style="left:897.00px;top:497.57px;font-size:20px;line-height:20px;color:#6e7a8a;letter-spacing:0.272px;transform:scaleX(1.06);transform-origin:0 0;">returning to expected levels</div>
</div>
</body></html>
